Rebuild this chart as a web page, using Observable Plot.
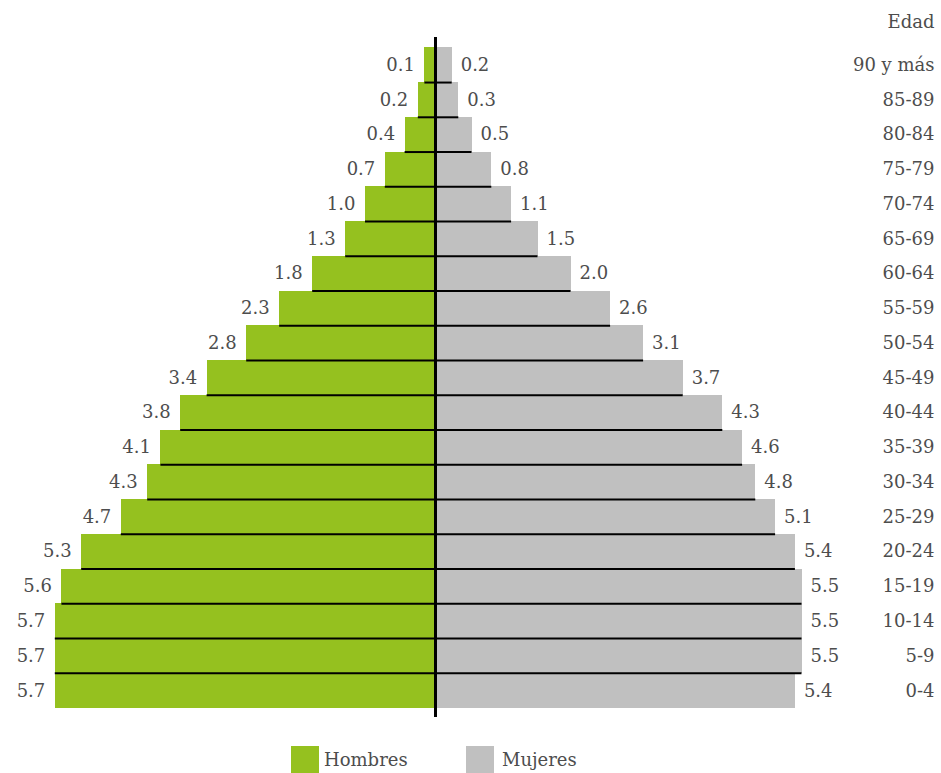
<!DOCTYPE html>
<html>
<head>
<meta charset="utf-8">
<script src="https://cdn.jsdelivr.net/npm/d3@7"></script>
<script src="https://cdn.jsdelivr.net/npm/@observablehq/plot@0.6"></script>
<style>
  body { margin: 0; background: white; }
  #wrap { width: 941px; position: relative; }
  #legend { position: relative; height: 33px; font-family: "DejaVu Serif", serif; font-size: 18px; color: #4d4d4d; }
  .sw { position: absolute; top: 6px; width: 28px; height: 28px; }
  .lb { position: absolute; top: 9px; line-height: 22px; }
</style>
</head>
<body>
<div id="wrap">
  <div id="chart"></div>
  <div id="legend">
    <div class="sw" style="left:291px;background:#95c11f"></div>
    <div class="lb" style="left:324px">Hombres</div>
    <div class="sw" style="left:466px;background:#c0c0c0"></div>
    <div class="lb" style="left:502px">Mujeres</div>
  </div>
</div>
<script>
const ages = ["90 y más","85-89","80-84","75-79","70-74","65-69","60-64","55-59","50-54","45-49","40-44","35-39","30-34","25-29","20-24","15-19","10-14","5-9","0-4"];
const hombres = [0.1,0.2,0.4,0.7,1.0,1.3,1.8,2.3,2.8,3.4,3.8,4.1,4.3,4.7,5.3,5.6,5.7,5.7,5.7];
const mujeres = [0.2,0.3,0.5,0.8,1.1,1.5,2.0,2.6,3.1,3.7,4.3,4.6,4.8,5.1,5.4,5.5,5.5,5.5,5.4];
const headerLabel = "Edad";

const rows = ages.map((a, i) => ({age: a, i, h: hombres[i], m: mujeres[i]}));
const fmt = d3.format(".1f");
const textColor = "#4d4d4d";

const chart = Plot.plot({
  width: 941,
  height: 740,
  marginLeft: 0,
  marginRight: 7,
  marginTop: 37,
  marginBottom: 23,
  x: {domain: [-435 / 66, 499 / 66], axis: null},
  y: {domain: [-0.296, 19.27], range: [37, 717], axis: null},
  style: {fontFamily: "DejaVu Serif, serif", fontSize: "18px", color: textColor, background: "white"},
  marks: [
    Plot.rectX(rows, {x1: d => -d.h, x2: 0, y1: "i", y2: d => d.i + 1, fill: "#95c11f", insetLeft: -4, shapeRendering: "crispEdges"}),
    Plot.rectX(rows, {x1: 0, x2: "m", y1: "i", y2: d => d.i + 1, fill: "#c0c0c0", insetRight: -3.5, shapeRendering: "crispEdges"}),
    Plot.ruleY(rows.slice(0, -1), {y: d => d.i + 1, x1: d => -d.h, x2: 0, stroke: "black", strokeWidth: 2, insetLeft: -4}),
    Plot.ruleY(rows.slice(0, -1), {y: d => d.i + 1, x1: 0, x2: "m", stroke: "black", strokeWidth: 2, insetRight: -3.5}),
    Plot.ruleX([0], {stroke: "black", strokeWidth: 3}),
    Plot.text(rows, {x: d => -d.h, y: d => d.i + 0.5, text: d => fmt(d.h), textAnchor: "end", dx: -14, fill: textColor}),
    Plot.text(rows, {x: "m", y: d => d.i + 0.5, text: d => fmt(d.m), textAnchor: "start", dx: 12, fill: textColor}),
    Plot.text(rows, {y: d => d.i + 0.5, text: "age", frameAnchor: "right", textAnchor: "end", fill: textColor}),
    Plot.text([headerLabel], {text: d => d, frameAnchor: "top-right", textAnchor: "end", lineAnchor: "middle", dy: -15, fill: textColor})
  ]
});
document.getElementById("chart").appendChild(chart);
</script>
</body>
</html>
